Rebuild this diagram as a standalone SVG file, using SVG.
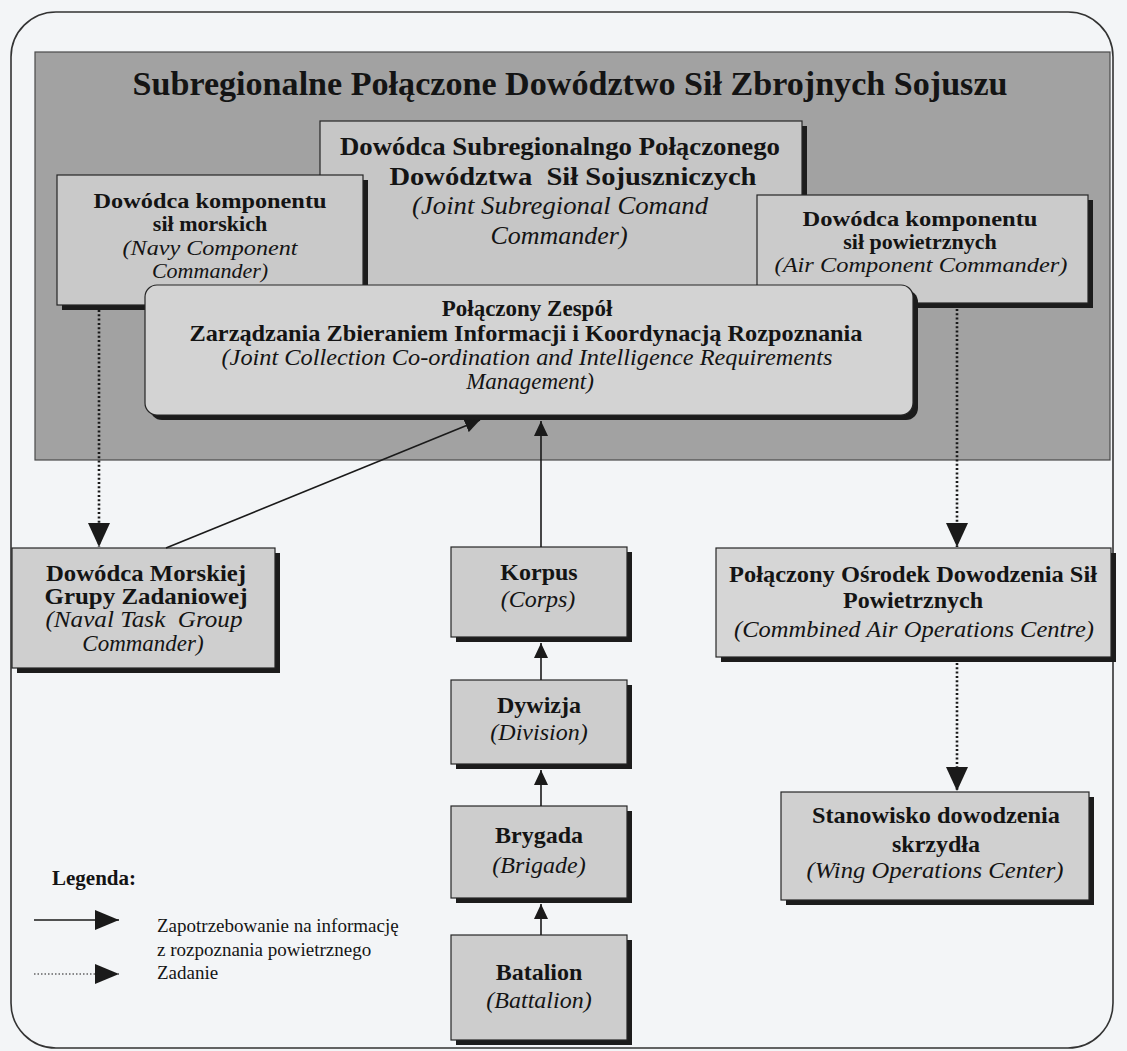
<svg xmlns="http://www.w3.org/2000/svg" width="1127" height="1051" viewBox="0 0 1127 1051">
<defs>
<style>
.t{font-family:"Liberation Serif","Times New Roman",serif;fill:#141414}
.b{font-weight:bold}
.i{font-style:italic}
.m{text-anchor:middle}
.f24{font-size:23px}
.f23{font-size:22px}
.f26{font-size:26px}
.f19{font-size:19px}
.box{stroke:#262626;stroke-width:1.2}
.sh{fill:#1c1c1c}
.solid{stroke:#1a1a1a;stroke-width:1.6;fill:none}
.dot{stroke:#1a1a1a;stroke-width:2.6;fill:none;stroke-dasharray:2 2.3}
.dotl{stroke:#1a1a1a;stroke-width:1.2;fill:none;stroke-dasharray:1.5 2}
</style>
<marker id="ah" markerUnits="userSpaceOnUse" viewBox="0 0 15 14" markerWidth="15" markerHeight="14" refX="15" refY="7" orient="auto"><path d="M0,0 L15,7 L0,14 z" fill="#1a1a1a"/></marker>
<marker id="ahd" markerUnits="userSpaceOnUse" viewBox="0 0 24 22" markerWidth="24" markerHeight="22" refX="24" refY="11" orient="auto"><path d="M0,0 L24,11 L0,22 z" fill="#1a1a1a"/></marker>
<marker id="ahl" markerUnits="userSpaceOnUse" viewBox="0 0 24 20" markerWidth="24" markerHeight="20" refX="24" refY="10" orient="auto"><path d="M0,0 L24,10 L0,20 z" fill="#1a1a1a"/></marker>
</defs>

<rect x="0" y="0" width="1127" height="1051" fill="#f3f5f7"/>
<rect x="11" y="12" width="1102" height="1036" rx="45" fill="none" stroke="#333" stroke-width="1.6"/>

<g id="command-area">
<rect x="35" y="52" width="1075" height="408" fill="#a2a2a2" stroke="#4a4a4a" stroke-width="1.2"/>
<text class="t b m" x="570" y="95" font-size="34" textLength="875" lengthAdjust="spacingAndGlyphs">Subregionalne Połączone Dowództwo Sił Zbrojnych Sojuszu</text>
</g>

<g id="joint-commander">
<rect class="sh" x="325" y="126" width="482" height="160"/>
<rect class="box" x="320" y="121" width="482" height="165" fill="#c6c6c6"/>
<text class="t b m f26" x="560" y="155" textLength="440" lengthAdjust="spacingAndGlyphs">Dowódca Subregionalngo Połączonego</text>
<text class="t b m f26" x="573" y="185" textLength="367" lengthAdjust="spacingAndGlyphs" xml:space="preserve">Dowództwa  Sił Sojuszniczych</text>
<text class="t i m f26" x="560" y="214" textLength="296" lengthAdjust="spacingAndGlyphs">(Joint Subregional Comand</text>
<text class="t i m f26" x="559" y="244">Commander)</text>
</g>

<g id="navy-component">
<rect class="sh" x="62" y="180" width="306" height="130"/>
<rect class="box" x="57" y="175" width="306" height="130" fill="#c9c9c9"/>
<text class="t b m f23" x="210" y="208" textLength="233" lengthAdjust="spacingAndGlyphs">Dowódca komponentu</text>
<text class="t b m f23" x="210" y="231">sił morskich</text>
<text class="t i m f23" x="210" y="255" textLength="175" lengthAdjust="spacingAndGlyphs">(Navy Component</text>
<text class="t i m f23" x="210" y="278">Commander)</text>
</g>

<g id="air-component">
<rect class="sh" x="762" y="200" width="331" height="108"/>
<rect class="box" x="757" y="195" width="331" height="108" fill="#cbcbcb"/>
<text class="t b m f23" x="920" y="226" textLength="235" lengthAdjust="spacingAndGlyphs">Dowódca komponentu</text>
<text class="t b m f23" x="920" y="249">sił powietrznych</text>
<text class="t i m f23" x="921" y="272" textLength="293" lengthAdjust="spacingAndGlyphs">(Air Component Commander)</text>
</g>

<g id="jcc-irm">
<rect class="sh" x="150" y="290" width="768" height="130" rx="12"/>
<rect class="box" x="145" y="285" width="768" height="130" rx="12" fill="#d3d3d3"/>
<text class="t b m f24" x="527" y="316">Połączony Zespół</text>
<text class="t b m f24" x="526" y="341" textLength="673" lengthAdjust="spacingAndGlyphs">Zarządzania Zbieraniem Informacji i Koordynacją Rozpoznania</text>
<text class="t i m f24" x="527" y="365" textLength="611" lengthAdjust="spacingAndGlyphs">(Joint Collection Co-ordination and Intelligence Requirements</text>
<text class="t i m f24" x="530" y="389">Management)</text>
</g>

<g id="naval-task-group">
<rect class="sh" x="17" y="553" width="263" height="120"/>
<rect class="box" x="12" y="548" width="263" height="120" fill="#cfcfcf"/>
<text class="t b m f24" x="146" y="581" textLength="200" lengthAdjust="spacingAndGlyphs">Dowódca Morskiej</text>
<text class="t b m f24" x="146" y="604" textLength="203" lengthAdjust="spacingAndGlyphs">Grupy Zadaniowej</text>
<text class="t i m f24" x="144" y="627" textLength="197" lengthAdjust="spacingAndGlyphs" xml:space="preserve">(Naval Task  Group</text>
<text class="t i m f24" x="143" y="651">Commander)</text>
</g>

<g id="korpus">
<rect class="sh" x="456" y="552" width="176" height="90"/>
<rect class="box" x="451" y="547" width="176" height="90" fill="#cdcdcd"/>
<text class="t b m" font-size="24" x="539" y="580">Korpus</text>
<text class="t i m" font-size="24" x="538" y="607">(Corps)</text>
</g>

<g id="dywizja">
<rect class="sh" x="456" y="685" width="176" height="84"/>
<rect class="box" x="451" y="680" width="176" height="84" fill="#cdcdcd"/>
<text class="t b m" font-size="24" x="539" y="713">Dywizja</text>
<text class="t i m" font-size="24" x="539" y="740">(Division)</text>
</g>

<g id="brygada">
<rect class="sh" x="456" y="811" width="176" height="92"/>
<rect class="box" x="451" y="806" width="176" height="92" fill="#cdcdcd"/>
<text class="t b m" font-size="24" x="539" y="843">Brygada</text>
<text class="t i m" font-size="24" x="539" y="873">(Brigade)</text>
</g>

<g id="batalion">
<rect class="sh" x="456" y="940" width="176" height="105"/>
<rect class="box" x="451" y="935" width="176" height="105" fill="#cdcdcd"/>
<text class="t b m" font-size="24" x="539" y="980">Batalion</text>
<text class="t i m" font-size="24" x="539" y="1008">(Battalion)</text>
</g>

<g id="caoc">
<rect class="sh" x="721" y="553" width="395" height="109"/>
<rect class="box" x="716" y="548" width="395" height="109" fill="#d6d6d6"/>
<text class="t b m" font-size="24" x="913" y="582" textLength="368" lengthAdjust="spacingAndGlyphs">Połączony Ośrodek Dowodzenia Sił</text>
<text class="t b m" font-size="24" x="913" y="608">Powietrznych</text>
<text class="t i m" font-size="24" x="914" y="637" textLength="360" lengthAdjust="spacingAndGlyphs">(Commbined Air Operations Centre)</text>
</g>

<g id="wing-operations">
<rect class="sh" x="786" y="797" width="308" height="108"/>
<rect class="box" x="781" y="792" width="308" height="108" fill="#d0d0d0"/>
<text class="t b m" font-size="24" x="936" y="823" textLength="248" lengthAdjust="spacingAndGlyphs">Stanowisko dowodzenia</text>
<text class="t b m" font-size="24" x="936" y="852">skrzydła</text>
<text class="t i m" font-size="24" x="935" y="878" textLength="257" lengthAdjust="spacingAndGlyphs">(Wing Operations Center)</text>
</g>

<g id="connectors">
<path class="dot" d="M99,310 L99,547" marker-end="url(#ahd)"/>
<path class="dot" d="M957,309 L957,547" marker-end="url(#ahd)"/>
<path class="dot" d="M957,663 L957,791" marker-end="url(#ahd)"/>
<path class="solid" d="M166,548 L480,420" marker-end="url(#ah)"/>
<path class="solid" d="M541,547 L541,421" marker-end="url(#ah)"/>
<path class="solid" d="M541,680 L541,643" marker-end="url(#ah)"/>
<path class="solid" d="M541,806 L541,770" marker-end="url(#ah)"/>
<path class="solid" d="M541,935 L541,904" marker-end="url(#ah)"/>
</g>

<g id="legend">
<text class="t b" font-size="21" x="52" y="885">Legenda:</text>
<path class="solid" d="M34,920 L119,920" marker-end="url(#ahl)"/>
<path class="dotl" d="M34,974 L119,974" marker-end="url(#ahl)"/>
<text class="t f19" x="157" y="932">Zapotrzebowanie na informację</text>
<text class="t f19" x="157" y="956">z rozpoznania powietrznego</text>
<text class="t f19" x="157" y="979">Zadanie</text>
</g>
</svg>
